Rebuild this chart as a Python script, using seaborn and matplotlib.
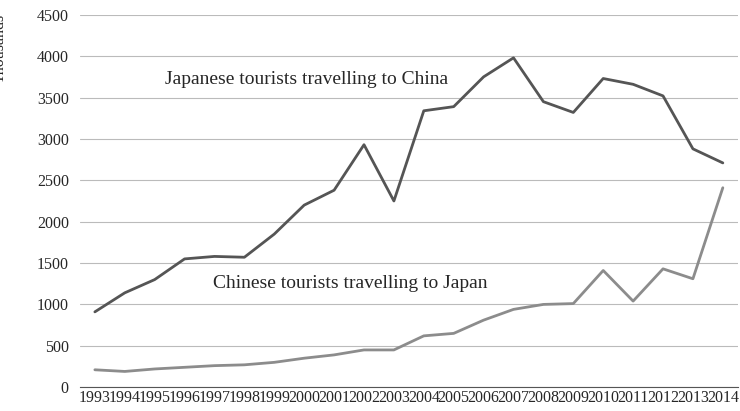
import matplotlib
matplotlib.use("Agg")
import matplotlib.pyplot as plt
import seaborn as sns
import pandas as pd

years = list(range(1993, 2015))
japan_to_china = [910, 1140, 1300, 1550, 1580, 1570, 1850, 2200, 2380, 2930, 2250,
                  3340, 3390, 3750, 3980, 3450, 3320, 3730, 3660, 3520, 2880, 2710]
china_to_japan = [210, 190, 220, 240, 260, 270, 300, 350, 390, 450, 450,
                  620, 650, 810, 940, 1000, 1010, 1410, 1040, 1430, 1310, 2410]

sns.set_style("white")
plt.rcParams['font.family'] = ['Liberation Serif', 'DejaVu Serif']

df = pd.DataFrame({"idx": range(len(years)), "jp": japan_to_china, "cn": china_to_japan})
fig = plt.figure(figsize=(7.4, 4.11), dpi=100)
ax = fig.add_axes([0.108, 0.058, 0.889, 0.906])
sns.lineplot(data=df, x="idx", y="jp", ax=ax, color="#555555", linewidth=2)
sns.lineplot(data=df, x="idx", y="cn", ax=ax, color="#8c8c8c", linewidth=2)
ax.set_xlim(-0.5, len(years) - 0.5)
ax.set_ylim(0, 4500)
ax.set_yticks(range(0, 4501, 500))
ax.set_xticks(range(len(years)))
ax.set_xticklabels([str(y) for y in years], fontsize=11.5)
ax.tick_params(axis='y', labelsize=11.5, length=0, pad=8)
ax.tick_params(axis='x', length=0, pad=2)
ax.yaxis.grid(True, color="#bbbbbb", linewidth=0.8)
for s in ["top", "right", "left"]:
    ax.spines[s].set_visible(False)
ax.spines["bottom"].set_color("#555555")
ax.set_xlabel("")
ax.set_ylabel("Thousands", fontsize=11.5)
ax.yaxis.set_label_coords(-0.11, 0.91)
ax.text(2.34, 3713, "Japanese tourists travelling to China", fontsize=14, va="center", ha="left")
ax.text(3.95, 1258, "Chinese tourists travelling to Japan", fontsize=14, va="center", ha="left")
fig.savefig("out.png", dpi=100)
